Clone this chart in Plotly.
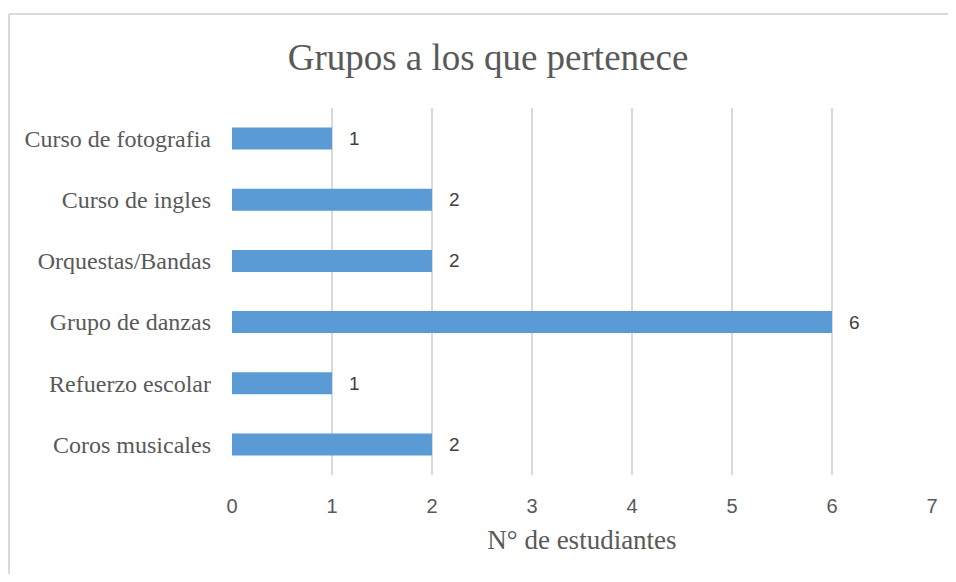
import plotly.graph_objects as go

categories = ["Coros musicales", "Refuerzo escolar", "Grupo de danzas",
              "Orquestas/Bandas", "Curso de ingles", "Curso de fotografia"]
values = [2, 1, 6, 2, 2, 1]
x_ticks = [0, 1, 2, 3, 4, 5, 6, 7]

# page is offset by the default 8px body margin
OFF = 8
W, H = 956, 582 - 2 * OFF
# target page pixel positions
PL, PR, PT, PB = 232, 932, 108, 475
L, T = PL - OFF, PT - OFF
R = W - (PR - OFF)
B = H - (PB - OFF)
pw, ph = PR - PL, PB - PT

serif = "Liberation Serif, Times New Roman, serif"
sans = "Liberation Sans, Arial, sans-serif"

fig = go.Figure()
fig.add_trace(go.Bar(
    y=categories, x=values, orientation="h",
    marker=dict(color="#5B9BD5", line=dict(width=0)),
    width=0.36,
    hoverinfo="skip",
))

annotations = [
    dict(x=v, y=c, xref="x", yref="y", text=str(v), showarrow=False,
         xanchor="left", yanchor="middle", xshift=15,
         font=dict(family=sans, size=19, color="#404040"))
    for c, v in zip(categories, values)
]

fig.update_layout(
    width=W, height=H,
    margin=dict(l=L, r=R, t=T, b=B),
    paper_bgcolor="white", plot_bgcolor="white",
    showlegend=False,
    annotations=annotations,
    title=dict(text="Grupos a los que pertenece", x=(488 - OFF) / W, xanchor="center",
               y=1 - (57 - OFF) / H, yanchor="middle", xref="container", yref="container",
               font=dict(family=serif, size=37, color="#595959")),
    xaxis=dict(range=[0, 7], tickvals=x_ticks, showgrid=True, gridcolor="#d9d9d9",
               gridwidth=1.5, zeroline=False, showline=False, ticks="",
               ticklabelstandoff=17,
               tickfont=dict(family=sans, size=20, color="#595959"),
               title=dict(text="N° de estudiantes", standoff=14,
                          font=dict(family=serif, size=27, color="#595959"))),
    yaxis=dict(showgrid=False, zeroline=False, showline=False, ticks="",
               ticklabelstandoff=20,
               tickfont=dict(family=serif, size=24, color="#595959")),
    shapes=[
        dict(type="line", xref="paper", yref="paper",
             x0=(9 - PL) / pw, x1=(970 - PL) / pw,
             y0=1 + (PT - 14) / ph, y1=1 + (PT - 14) / ph,
             line=dict(color="#d9d9d9", width=2)),
        dict(type="line", xref="paper", yref="paper",
             x0=(9 - PL) / pw, x1=(9 - PL) / pw,
             y0=1 + (PT - 14) / ph, y1=-(600 - PB) / ph,
             line=dict(color="#d9d9d9", width=2)),
    ],
)

fig.write_html("out.html")
